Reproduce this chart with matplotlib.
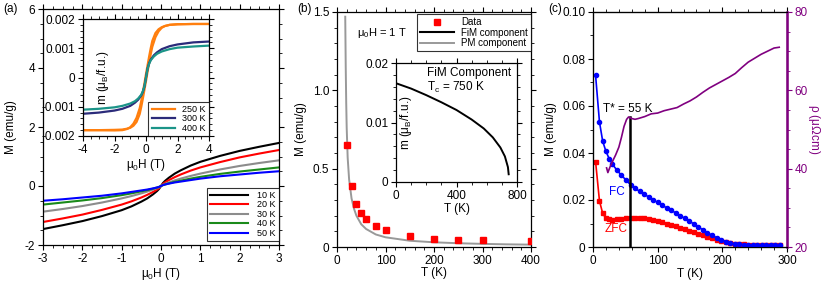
import matplotlib
matplotlib.use("Agg")
import matplotlib.pyplot as plt
from matplotlib.ticker import MultipleLocator, FixedLocator

plt.rcParams['font.family'] = ['Liberation Sans', 'DejaVu Sans']
plt.rcParams['mathtext.default'] = 'regular'
plt.rcParams['axes.unicode_minus'] = False
plt.rcParams['font.size'] = 8.5

# ---------------- Panel (a) main: M(H) ----------------
H_a = [-3, -2.5, -2, -1.5, -1, -0.75, -0.5, -0.35, -0.2, -0.1, -0.05, 0,
       0.05, 0.1, 0.2, 0.35, 0.5, 0.75, 1, 1.5, 2, 2.5, 3]
M_10K = [-1.46, -1.33, -1.19, -1.02, -0.82, -0.69, -0.53, -0.42, -0.28, -0.17, -0.10, 0,
         0.10, 0.17, 0.28, 0.42, 0.53, 0.69, 0.82, 1.02, 1.19, 1.33, 1.46]
M_20K = [-1.22, -1.10, -0.97, -0.81, -0.63, -0.52, -0.39, -0.30, -0.20, -0.12, -0.07, 0,
         0.07, 0.12, 0.20, 0.30, 0.39, 0.52, 0.63, 0.81, 0.97, 1.10, 1.22]
M_30K = [-0.87, -0.78, -0.68, -0.56, -0.42, -0.34, -0.25, -0.19, -0.12, -0.07, -0.04, 0,
         0.04, 0.07, 0.12, 0.19, 0.25, 0.34, 0.42, 0.56, 0.68, 0.78, 0.87]
M_40K = [-0.63, -0.56, -0.49, -0.41, -0.31, -0.25, -0.18, -0.14, -0.09, -0.05, -0.03, 0,
         0.03, 0.05, 0.09, 0.14, 0.18, 0.25, 0.31, 0.41, 0.49, 0.56, 0.63]
M_50K = [-0.50, -0.45, -0.39, -0.33, -0.25, -0.20, -0.15, -0.12, -0.08, -0.05, -0.03, 0,
         0.03, 0.05, 0.08, 0.12, 0.15, 0.20, 0.25, 0.33, 0.39, 0.45, 0.50]
labels_a = ['10 K', '20 K', '30 K', '40 K', '50 K']
colors_a = ['#000000', '#ff0000', '#8c8c8c', '#1a8a1a', '#0000ff']

# ---------------- Panel (a) inset: m(H) ----------------
H_up = [-4, -3, -2, -1.5, -1.2, -1.0, -0.8, -0.6, -0.4, -0.3, -0.2, -0.1, 0,
        0.1, 0.2, 0.3, 0.4, 0.6, 0.8, 1.0, 1.2, 1.5, 2, 3, 4]
m250_up = [-1.80, -1.80, -1.79, -1.78, -1.75, -1.72, -1.65, -1.52, -1.25, -1.00, -0.72, -0.42, -0.12,
           0.20, 0.50, 0.80, 1.05, 1.38, 1.58, 1.70, 1.76, 1.80, 1.82, 1.83, 1.83]
H_down = [4, 3, 2, 1.5, 1.2, 1.0, 0.8, 0.6, 0.4, 0.3, 0.2, 0.1, 0,
          -0.1, -0.2, -0.3, -0.4, -0.6, -0.8, -1.0, -1.2, -1.5, -2, -3, -4]
m250_down = [1.83, 1.83, 1.82, 1.80, 1.76, 1.72, 1.65, 1.52, 1.25, 1.00, 0.72, 0.42, 0.12,
             -0.20, -0.50, -0.80, -1.05, -1.38, -1.58, -1.70, -1.76, -1.80, -1.81, -1.80, -1.80]
H_i = [-4, -3, -2, -1.5, -1, -0.7, -0.5, -0.3, -0.2, -0.1, 0,
       0.1, 0.2, 0.3, 0.5, 0.7, 1, 1.5, 2, 3, 4]
m300 = [-1.24, -1.20, -1.13, -1.07, -0.97, -0.86, -0.76, -0.61, -0.49, -0.31, 0,
        0.31, 0.49, 0.61, 0.76, 0.86, 0.97, 1.07, 1.13, 1.20, 1.23]
m400 = [-1.10, -1.07, -1.02, -0.97, -0.89, -0.81, -0.72, -0.59, -0.47, -0.30, 0,
        0.30, 0.47, 0.59, 0.72, 0.81, 0.89, 0.97, 1.02, 1.06, 1.09]

# ---------------- Panel (b) ----------------
T_b = [20, 30, 40, 50, 60, 80, 100, 150, 200, 250, 300, 400]
M_b = [0.65, 0.39, 0.275, 0.215, 0.178, 0.132, 0.106, 0.070, 0.054, 0.045, 0.042, 0.036]
T_pm = [17, 18, 19, 20, 22, 25, 30, 35, 40, 50, 60, 80, 100, 150, 200, 250, 300, 350, 400]
M_pm = [1.47, 1.15, 0.92, 0.76, 0.57, 0.43, 0.31, 0.245, 0.20, 0.145, 0.115, 0.080, 0.062,
        0.040, 0.030, 0.024, 0.020, 0.017, 0.015]
T_fim = [0, 100, 200, 300, 400, 500, 580, 640, 690, 720, 740, 745]
m_fim = [0.0166, 0.0157, 0.0146, 0.0134, 0.0121, 0.0105, 0.0090, 0.0075, 0.0058, 0.0043, 0.0025, 0.0013]

# ---------------- Panel (c) ----------------
T_fc = [4, 10, 15, 20, 25, 30, 37, 44, 51, 58, 65, 72, 79, 86, 93, 100, 107, 114, 121, 128,
        135, 142, 149, 156, 163, 170, 177, 184, 191, 198, 205, 212, 219, 226, 233, 240,
        247, 254, 261, 268, 275, 282, 289]
M_fc = [0.0730, 0.0532, 0.0450, 0.0407, 0.0376, 0.0352, 0.0327, 0.0305, 0.0285, 0.0265,
        0.0250, 0.0237, 0.0225, 0.0213, 0.0200, 0.0190, 0.0178, 0.0166, 0.0156, 0.0145,
        0.0133, 0.0122, 0.0110, 0.0098, 0.0085, 0.0073, 0.0061, 0.0050, 0.0040, 0.0031,
        0.0023, 0.0017, 0.0013, 0.0011, 0.0010, 0.0009, 0.0009, 0.0008, 0.0008, 0.0008,
        0.0008, 0.0008, 0.0008]
T_zfc = T_fc
M_zfc = [0.0363, 0.0196, 0.0143, 0.0122, 0.0118, 0.0117, 0.0118, 0.0120, 0.0123, 0.0125,
         0.0125, 0.0124, 0.0122, 0.0119, 0.0116, 0.0112, 0.0106, 0.0100, 0.0094, 0.0088,
         0.0082, 0.0076, 0.0070, 0.0064, 0.0057, 0.0050, 0.0043, 0.0037, 0.0031, 0.0026,
         0.0021, 0.0017, 0.0014, 0.0012, 0.0011, 0.0010, 0.0009, 0.0009, 0.0008, 0.0008,
         0.0008, 0.0008, 0.0008]
T_rho = [21, 23, 26, 30, 35, 40, 44, 48, 52, 55, 60, 65, 70, 80, 90, 100, 110, 120, 130,
         140, 150, 160, 170, 180, 190, 200, 210, 220, 230, 240, 250, 260, 270, 280, 288]
rho = [40.2, 39.0, 40.3, 41.8, 43.5, 45.5, 48.0, 50.8, 52.6, 53.2, 52.8, 52.6, 52.8, 53.3,
       54.0, 54.2, 54.8, 55.2, 55.6, 56.5, 57.3, 58.3, 59.5, 60.6, 61.5, 62.4, 63.3, 64.3,
       65.8, 67.2, 68.2, 69.2, 70.0, 70.8, 71.0]
T_star = 57
M_star_top = 0.0553

W, Hh = 830, 292
fig = plt.figure(figsize=(W / 100, Hh / 100), dpi=100)


def rect(l, r, t, b):
    return [l / W, 1 - b / Hh, (r - l) / W, (b - t) / Hh]


def style(ax, right=True, top=True):
    ax.tick_params(which='both', direction='out', top=top, right=right, labelsize=8.5, pad=2)
    ax.tick_params(which='major', length=3.5, width=0.8)
    ax.tick_params(which='minor', length=2, width=0.6)
    for s in ax.spines.values():
        s.set_linewidth(0.9)


# ----- (a) main
axa = fig.add_axes(rect(43, 279, 9, 245))
for M, lab, c in zip([M_10K, M_20K, M_30K, M_40K, M_50K], labels_a, colors_a):
    axa.plot(H_a, M, color=c, lw=1.5, label=lab)
axa.set_xlim(-3, 3)
axa.set_ylim(-2, 6)
axa.xaxis.set_major_locator(MultipleLocator(1))
axa.xaxis.set_minor_locator(MultipleLocator(0.25))
axa.yaxis.set_major_locator(MultipleLocator(2))
axa.yaxis.set_minor_locator(MultipleLocator(0.5))
style(axa)
axa.set_xlabel(r'$\mu_0$H (T)', fontsize=8.5, labelpad=1)
axa.set_ylabel('M (emu/g)', fontsize=8.5, labelpad=6)
leg = axa.legend(loc='lower right', bbox_to_anchor=(1.0, 0.017), fontsize=6.5, frameon=True,
                 fancybox=False, edgecolor='black', handlelength=4.2, handletextpad=1.0,
                 borderpad=0.35, labelspacing=0.05, borderaxespad=0)
leg.get_frame().set_linewidth(0.8)
fig.text(3 / W, 1 - 9 / Hh, '(a)', fontsize=8.5, va='center', ha='left')

# ----- (a) inset
axi = fig.add_axes(rect(83, 209, 19, 136))
axi.plot(H_up, [v * 1e-3 for v in m250_up], color='#ff7f0e', lw=1.6, label='250 K')
axi.plot(H_down, [v * 1e-3 for v in m250_down], color='#ff7f0e', lw=1.6)
axi.plot(H_i, [v * 1e-3 for v in m300], color='#2b2b7a', lw=1.6, label='300 K')
axi.plot(H_i, [v * 1e-3 for v in m400], color='#1b9488', lw=1.6, label='400 K')
axi.set_xlim(-4, 4)
axi.set_ylim(-0.002, 0.002)
axi.xaxis.set_major_locator(MultipleLocator(2))
axi.xaxis.set_minor_locator(MultipleLocator(0.5))
axi.yaxis.set_major_locator(FixedLocator([-0.002, -0.001, 0, 0.001, 0.002]))
axi.yaxis.set_minor_locator(MultipleLocator(0.0002))
axi.set_yticklabels(['-0.002', '-0.001', '0', '0.001', '0.002'])
style(axi)
axi.set_xlabel(r'$\mu_0$H (T)', fontsize=8.5, labelpad=1)
axi.set_ylabel(r'm ($\mu_B$/f.u.)', fontsize=8.5, labelpad=-50)
legi = axi.legend(loc='lower right', bbox_to_anchor=(1.0, 0.0), fontsize=6.5, frameon=True,
                  fancybox=False, edgecolor='black', handlelength=2.6, handletextpad=0.8,
                  borderpad=0.35, labelspacing=0.05, borderaxespad=0)
legi.get_frame().set_linewidth(0.8)

# ----- (b) main
axb = fig.add_axes(rect(337, 531, 12, 247))
axb.plot(T_b, M_b, 's', color='#ff0000', ms=4, label='Data', zorder=3)
axb.plot([], [], color='black', lw=1.5, label='FiM component')
axb.plot(T_pm, M_pm, color='#999999', lw=1.4, label='PM component')
axb.set_xlim(0, 400)
axb.set_ylim(0, 1.5)
axb.xaxis.set_major_locator(MultipleLocator(100))
axb.xaxis.set_minor_locator(MultipleLocator(20))
axb.yaxis.set_major_locator(FixedLocator([0, 0.5, 1.0, 1.5]))
axb.yaxis.set_minor_locator(MultipleLocator(0.1))
axb.set_yticklabels(['0', '0.5', '1.0', '1.5'])
style(axb)
axb.set_xlabel('T (K)', fontsize=8.5, labelpad=0)
axb.set_ylabel('M (emu/g)', fontsize=8.5, labelpad=4)
legb = axb.legend(loc='upper right', bbox_to_anchor=(1.0, 0.99), fontsize=7, frameon=True,
                  fancybox=False, edgecolor='black', handlelength=3.5, handletextpad=0.8,
                  borderpad=0.3, labelspacing=0.05, borderaxespad=0)
legb.get_frame().set_linewidth(0.8)
fig.text(357 / W, 1 - 33 / Hh, r'$\mu_0$H = 1 T', fontsize=8, va='center', ha='left')
fig.text(297 / W, 1 - 9 / Hh, '(b)', fontsize=8.5, va='center', ha='left')

# ----- (b) inset
axbi = fig.add_axes(rect(396, 517, 63, 182))
axbi.plot(T_fim, m_fim, color='black', lw=1.4)
axbi.set_xlim(0, 800)
axbi.set_ylim(0, 0.02)
axbi.xaxis.set_major_locator(MultipleLocator(400))
axbi.xaxis.set_minor_locator(MultipleLocator(100))
axbi.yaxis.set_major_locator(FixedLocator([0, 0.01, 0.02]))
axbi.yaxis.set_minor_locator(MultipleLocator(0.002))
axbi.set_yticklabels(['0', '0.01', '0.02'])
style(axbi)
axbi.set_xlabel('T (K)', fontsize=8.5, labelpad=1)
axbi.set_ylabel(r'm ($\mu_B$/f.u.)', fontsize=8.5, labelpad=-35)
fig.text(427 / W, 1 - 67 / Hh, 'FiM Component\nT$_c$ = 750 K', ha='left', va='top',
         fontsize=8.5, linespacing=1.05)

# ----- (c)
axc = fig.add_axes(rect(593, 787, 12, 247))
axc.plot(T_fc, M_fc, '-o', color='#0000ff', ms=3, lw=1.2, zorder=3)
axc.plot(T_zfc, M_zfc, '-s', color='#ff0000', ms=3, lw=1.2, zorder=2)
axc.plot([T_star, T_star], [0, M_star_top], color='black', lw=1.8, zorder=4)
axc.set_xlim(0, 300)
axc.set_ylim(0, 0.10)
axc.xaxis.set_major_locator(MultipleLocator(100))
axc.xaxis.set_minor_locator(MultipleLocator(20))
axc.yaxis.set_major_locator(FixedLocator([0, 0.02, 0.04, 0.06, 0.08, 0.10]))
axc.yaxis.set_minor_locator(MultipleLocator(0.01))
axc.set_yticklabels(['0', '0.02', '0.04', '0.06', '0.08', '0.10'])
style(axc, right=False)
axc.set_xlabel('T (K)', fontsize=8.5, labelpad=1)
axc.set_ylabel('M (emu/g)', fontsize=8.5, labelpad=4)
axc.text(15, 0.056, 'T* = 55 K', fontsize=8.5, ha='left', va='bottom')
axc.text(24, 0.0235, 'FC', color='#0000ff', fontsize=8.5, ha='left', va='center')
axc.text(18, 0.0078, 'ZFC', color='#ff0000', fontsize=8.5, ha='left', va='center')

purple = '#800080'
axr = axc.twinx()
axr.plot(T_rho, rho, color=purple, lw=1.2)
axr.set_ylim(20, 80)
axr.yaxis.set_major_locator(MultipleLocator(20))
axr.yaxis.set_minor_locator(MultipleLocator(5))
axr.tick_params(which='both', direction='out', colors=purple, labelsize=8.5, pad=2)
axr.tick_params(which='major', length=3.5, width=0.8)
axr.tick_params(which='minor', length=2, width=0.6)
axr.spines['right'].set_color(purple)
axr.spines['right'].set_linewidth(1.8)
axr.set_ylabel(r'$\rho$ ($\mu\Omega$cm)', color=purple, fontsize=8.5, rotation=270, labelpad=10)
fig.text(548 / W, 1 - 9 / Hh, '(c)', fontsize=8.5, va='center', ha='left')

fig.savefig('out.png', dpi=100)
